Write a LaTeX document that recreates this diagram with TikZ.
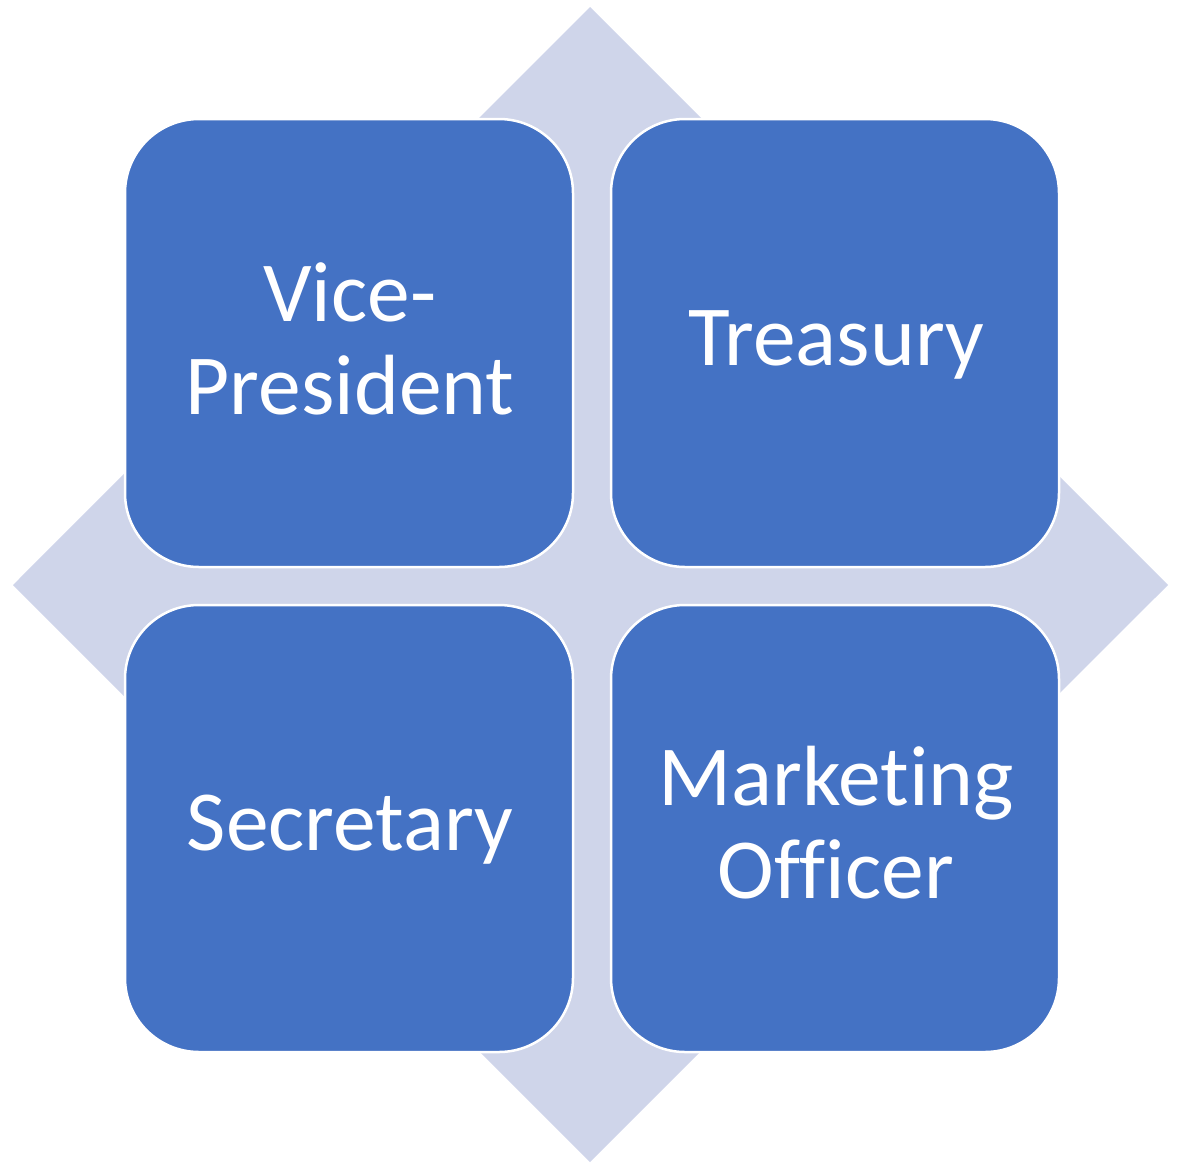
\documentclass[tikz,border=0pt]{standalone}
\usepackage{fontspec}
\setmainfont[Ligatures=NoCommon]{Carlito}
\definecolor{diam}{HTML}{CFD5EA}
\definecolor{boxblue}{HTML}{4472C4}
\begin{document}
\begin{tikzpicture}[x=1pt,y=-1pt,
  quad/.style={draw=white, line width=2.5pt, fill=boxblue, rounded corners=74pt},
  lbl/.style={text=white, font=\fontsize{85.5}{93}\selectfont, align=center}]
\useasboundingbox (0,0) rectangle (1184,1163);
\fill[diam] (590,7) coordinate (dt) -- (1168,585) coordinate (dr) -- (590,1162) coordinate (db) -- (13,585) coordinate (dl) -- cycle;
\draw[quad] (125,119) rectangle (573,567);
\draw[quad] (611,119) rectangle (1059,567);
\draw[quad] (125,605) rectangle (573,1052);
\draw[quad] (611,605) rectangle (1059,1052);
\node[lbl] (vp) at (350,339) {Vice-\\President};
\node[lbl] (tr) at (836,345) {Treasury};
\node[lbl] (se) at (350,830) {Secretary};
\node[lbl] (mo) at (836,823) {Marketing\\Officer};
\end{tikzpicture}
\end{document}
